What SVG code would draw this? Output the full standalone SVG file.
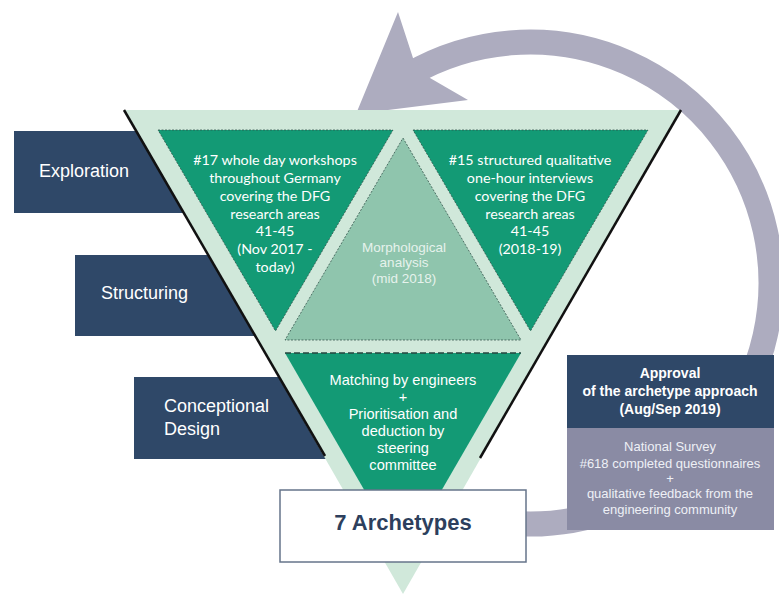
<svg xmlns="http://www.w3.org/2000/svg" width="779" height="596" viewBox="0 0 779 596">
<style>
.navy{fill:#2f4868}
.lbl{font-family:"Liberation Sans",Arial,sans-serif;font-size:18px;fill:#ffffff}
.tri{font-family:Lato,"Open Sans",sans-serif;font-size:14.3px;fill:#ffffff;text-anchor:middle}
.mid{font-family:"Liberation Sans",Arial,sans-serif;font-size:13.5px;fill:#e6f2ec;text-anchor:middle}
.bot{font-family:"Liberation Sans",Arial,sans-serif;font-size:14.6px;fill:#ffffff;text-anchor:middle}
.appr{font-family:"Liberation Sans",Arial,sans-serif;font-size:14px;font-weight:bold;fill:#ffffff;text-anchor:middle}
.surv{font-family:"Liberation Sans",Arial,sans-serif;font-size:13px;fill:#eef0f6;text-anchor:middle}
.dark{fill:#139a75}
.dot{fill:none;stroke:#2f4f47;stroke-width:1;stroke-dasharray:2 1.5;opacity:0.75}
.shadow{stroke:#111111;stroke-width:2.5;fill:none}
</style>

<g id="cycle-arrow">
  <path d="M 510 523.2 A 241 241 0 1 0 409.5 74.3" fill="none" stroke="#adacbf" stroke-width="25"/>
  <polygon points="398,12 413,58 430,78 468,100 356,114" fill="#adacbf"/>
</g>

<g id="exploration">
  <rect class="navy" x="14" y="131" width="190" height="82"/>
  <text class="lbl" x="39" y="177">Exploration</text>
</g>
<g id="structuring">
  <rect class="navy" x="75" y="255" width="200" height="81"/>
  <text class="lbl" x="101" y="299">Structuring</text>
</g>
<g id="conceptional-design">
  <rect class="navy" x="134" y="377" width="210" height="82"/>
  <text class="lbl" x="164" y="412">Conceptional</text>
  <text class="lbl" x="164" y="435">Design</text>
</g>

<g id="funnel">
  <polygon points="125,110 680,110 403,594" fill="#d0e8da"/>
  <line class="shadow" x1="124" y1="110" x2="325" y2="456"/>
  <line class="shadow" x1="681" y1="110" x2="480" y2="458"/>
</g>

<g id="workshops">
  <polygon class="dark" points="158,130 393,130 275.5,331"/>
  <polygon class="dot" points="158,130 393,130 275.5,331"/>
  <text class="tri" x="275" y="165">#17 whole day workshops</text>
  <text class="tri" x="275" y="183">throughout Germany</text>
  <text class="tri" x="275" y="201">covering the DFG</text>
  <text class="tri" x="275" y="219">research areas</text>
  <text class="tri" x="275" y="236">41-45</text>
  <text class="tri" x="275" y="254">(Nov 2017 -</text>
  <text class="tri" x="275" y="272">today)</text>
</g>

<g id="interviews">
  <polygon class="dark" points="413,130 648,130 530.5,331"/>
  <polygon class="dot" points="413,130 648,130 530.5,331"/>
  <text class="tri" x="530" y="165">#15 structured qualitative</text>
  <text class="tri" x="530" y="183">one-hour interviews</text>
  <text class="tri" x="530" y="201">covering the DFG</text>
  <text class="tri" x="530" y="219">research areas</text>
  <text class="tri" x="530" y="236">41-45</text>
  <text class="tri" x="530" y="254">(2018-19)</text>
</g>

<g id="morphological-analysis">
  <polygon points="403,138 521,340 285,340" fill="#8fc5ad"/>
  <polygon class="dot" points="403,138 521,340 285,340"/>
  <text class="mid" x="404" y="252">Morphological</text>
  <text class="mid" x="404" y="267">analysis</text>
  <text class="mid" x="404" y="283">(mid 2018)</text>
</g>

<g id="matching">
  <polygon class="dark" points="285,353 521,353 403,557"/>
  <line x1="285" y1="353" x2="521" y2="353" stroke="#24463f" stroke-width="1.3" stroke-dasharray="6 3"/>
  <text class="bot" x="403" y="385">Matching by engineers</text>
  <text class="bot" x="403" y="402">+</text>
  <text class="bot" x="403" y="419">Prioritisation and</text>
  <text class="bot" x="403" y="436">deduction by</text>
  <text class="bot" x="403" y="453">steering</text>
  <text class="bot" x="403" y="470">committee</text>
</g>

<g id="archetypes">
  <rect x="280" y="490" width="246" height="72" fill="#ffffff" stroke="#66748a" stroke-width="1.5"/>
  <text x="403" y="530" text-anchor="middle" font-family="Liberation Sans, Arial, sans-serif" font-size="22" font-weight="bold" fill="#2d3f5d">7 Archetypes</text>
</g>

<g id="approval">
  <rect x="567" y="355" width="207" height="73" fill="#2f4868"/>
  <text class="appr" x="670" y="378">Approval</text>
  <text class="appr" x="670" y="396">of the archetype approach</text>
  <text class="appr" x="670" y="414">(Aug/Sep 2019)</text>
</g>

<g id="survey">
  <rect x="567" y="428" width="207" height="102" fill="#8a8ba4"/>
  <text class="surv" x="670" y="451">National Survey</text>
  <text class="surv" x="670" y="468">#618 completed questionnaires</text>
  <text class="surv" x="670" y="483">+</text>
  <text class="surv" x="670" y="498">qualitative feedback from the</text>
  <text class="surv" x="670" y="514">engineering community</text>
</g>
</svg>
